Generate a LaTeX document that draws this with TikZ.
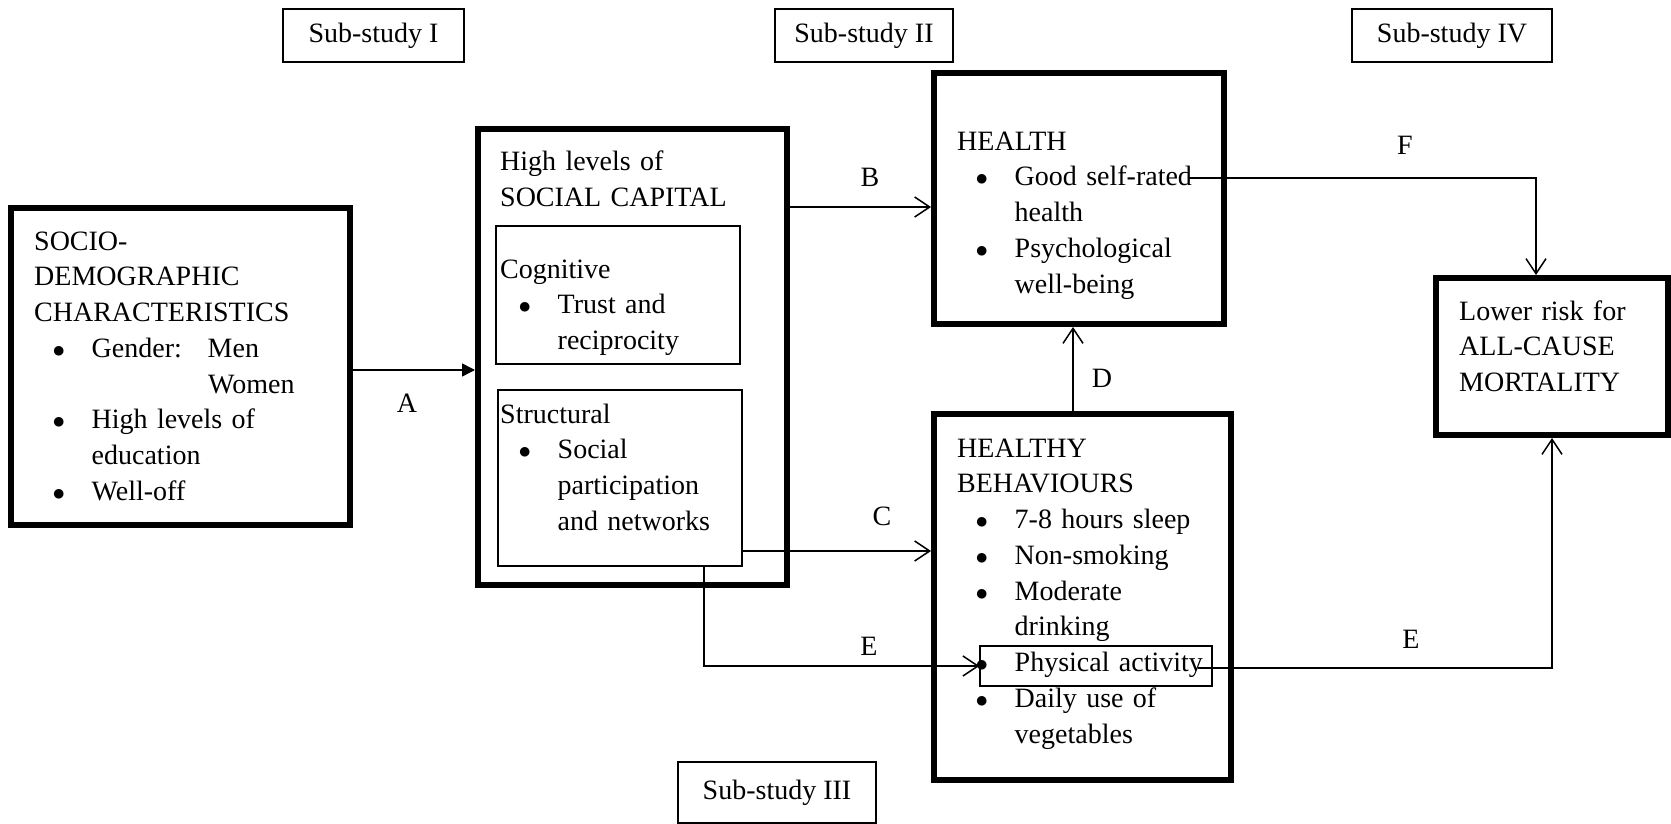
\documentclass[tikz,border=0pt]{standalone}
\usepackage{fontspec}
\setmainfont{Liberation Serif}
\usetikzlibrary{arrows.meta,calc}
\newcommand{\bul}{\makebox[57.5pt][l]{\hspace*{18.5pt}$\bullet$}}
\newcommand{\hang}{\hspace*{57.5pt}}
\begin{document}
\begin{tikzpicture}[x=1pt, y=-1pt, line join=miter, big box/.style={rectangle,draw,line width=6pt,inner sep=0pt}, small box/.style={rectangle,draw,line width=1.5pt,inner sep=0pt}, open arrow/.style={line width=1.5pt,-{Straight Barb[length=15pt,width=20pt]}}, solid arrow/.style={line width=1.5pt,-{Triangle[length=13pt,width=13pt]}}]%
\useasboundingbox (0,0) rectangle (1671,824);
\begin{scope}[every node/.style={font=\fontsize{28pt}{35.75pt}\selectfont}]
\node[big box,minimum width=339pt,minimum height=317pt] (socio) at (180.5,366.5) {};%socio-demographic
\node[big box,minimum width=309pt,minimum height=456pt] (sc) at (632.5,357) {};%social capital
\node[small box,minimum width=244pt,minimum height=138pt] (cog) at (618,295) {};%cognitive
\node[small box,minimum width=244pt,minimum height=176pt] (struc) at (620,478) {};%structural
\node[big box,minimum width=290pt,minimum height=251pt] (health) at (1079,198.5) {};%health
\node[big box,minimum width=297pt,minimum height=366pt] (behav) at (1082.5,597) {};%behaviours
\node[small box,minimum width=232pt,minimum height=40pt] (pa) at (1096,666) {};%physical activity
\node[big box,minimum width=232pt,minimum height=157pt] (mort) at (1552,356.5) {};%mortality
\node[small box,minimum width=181pt,minimum height=53pt] (s1) at (373.5,35.5) {Sub-study I};
\node[small box,minimum width=178pt,minimum height=53pt] (s2) at (864,35.5) {Sub-study II};
\node[small box,minimum width=198pt,minimum height=61pt] (s3) at (777,792.5) {Sub-study III};
\node[small box,minimum width=200pt,minimum height=53pt] (s4) at (1452,35.5) {Sub-study IV};
%\node[big box] (x) at (,) {};
\end{scope}
\begin{scope}[every node/.style={anchor=base west,inner sep=0pt,text width=260pt,align=left,font=\fontsize{28pt}{35.75pt}\selectfont}]
\node (socioT) at (34,250) {SOCIO-\\DEMOGRAPHIC\\CHARACTERISTICS\\\bul\makebox[116pt][l]{Gender:}Men\\\hspace*{174pt}Women\\\bul High levels of\\\hang education\\\bul Well-off};
\node (scT) at (500,171) {High levels of\\SOCIAL CAPITAL};
\node (cogT) at (500,278) {Cognitive\\\bul Trust and\\\hang reciprocity};
\node (strucT) at (500,423) {Structural\\\bul Social\\\hang participation\\\hang and networks};
\node (healthT) at (957,150) {HEALTH\\\bul Good self-rated\\\hang health\\\bul Psychological\\\hang well-being};
\node (behavT) at (957,457) {HEALTHY\\BEHAVIOURS\\\bul 7-8 hours sleep\\\bul Non-smoking\\\bul Moderate\\\hang drinking\\\bul Physical activity\\\bul Daily use of\\\hang vegetables};
\node (mortT) at (1459,320) {Lower risk for\\ALL-CAUSE\\MORTALITY};
\end{scope}
\begin{scope}[every node/.style={inner sep=0pt,font=\fontsize{28pt}{35.75pt}\selectfont}]
\node (labA) at (407,403) {A};
\node (labB) at (870,177) {B};
\node (labC) at (882,516) {C};
\node (labD) at (1102,378) {D};
\node (labE1) at (869,646) {E};
\node (labE2) at (1411,639) {E};
\node (labF) at (1405,145) {F};
\end{scope}
\coordinate (aEnd) at ($(sc.west)+(0,13)$);
\coordinate (bEnd) at ($(health.west)+(0,8.5)$);
\coordinate (cEnd) at ($(behav.west)+(0,-46)$);
\coordinate (dStart) at ($(behav.north)+(-9.5,0)$);
\coordinate (eStart) at ($(struc.south)+(84,0)$);
\coordinate (paEnd) at ($(pa.east)+(-14.75,2)$);
\coordinate (fStart) at ($(health.east)+(-39,-20.5)$);
\coordinate (fEnd) at ($(mort.north)+(-16,0)$);
\draw[solid arrow] (aEnd -| socio.east) -- (aEnd);
\draw[open arrow] (bEnd -| sc.east) -- (bEnd);
\draw[open arrow] (cEnd -| struc.east) -- (cEnd);
\draw[open arrow] (dStart) -- (dStart |- health.south);
\draw[open arrow] (eStart) |- (pa.west);
\draw[open arrow] (paEnd) -| (mort.south);
\draw[open arrow] (fStart) -| (fEnd);
\end{tikzpicture}
\end{document}
